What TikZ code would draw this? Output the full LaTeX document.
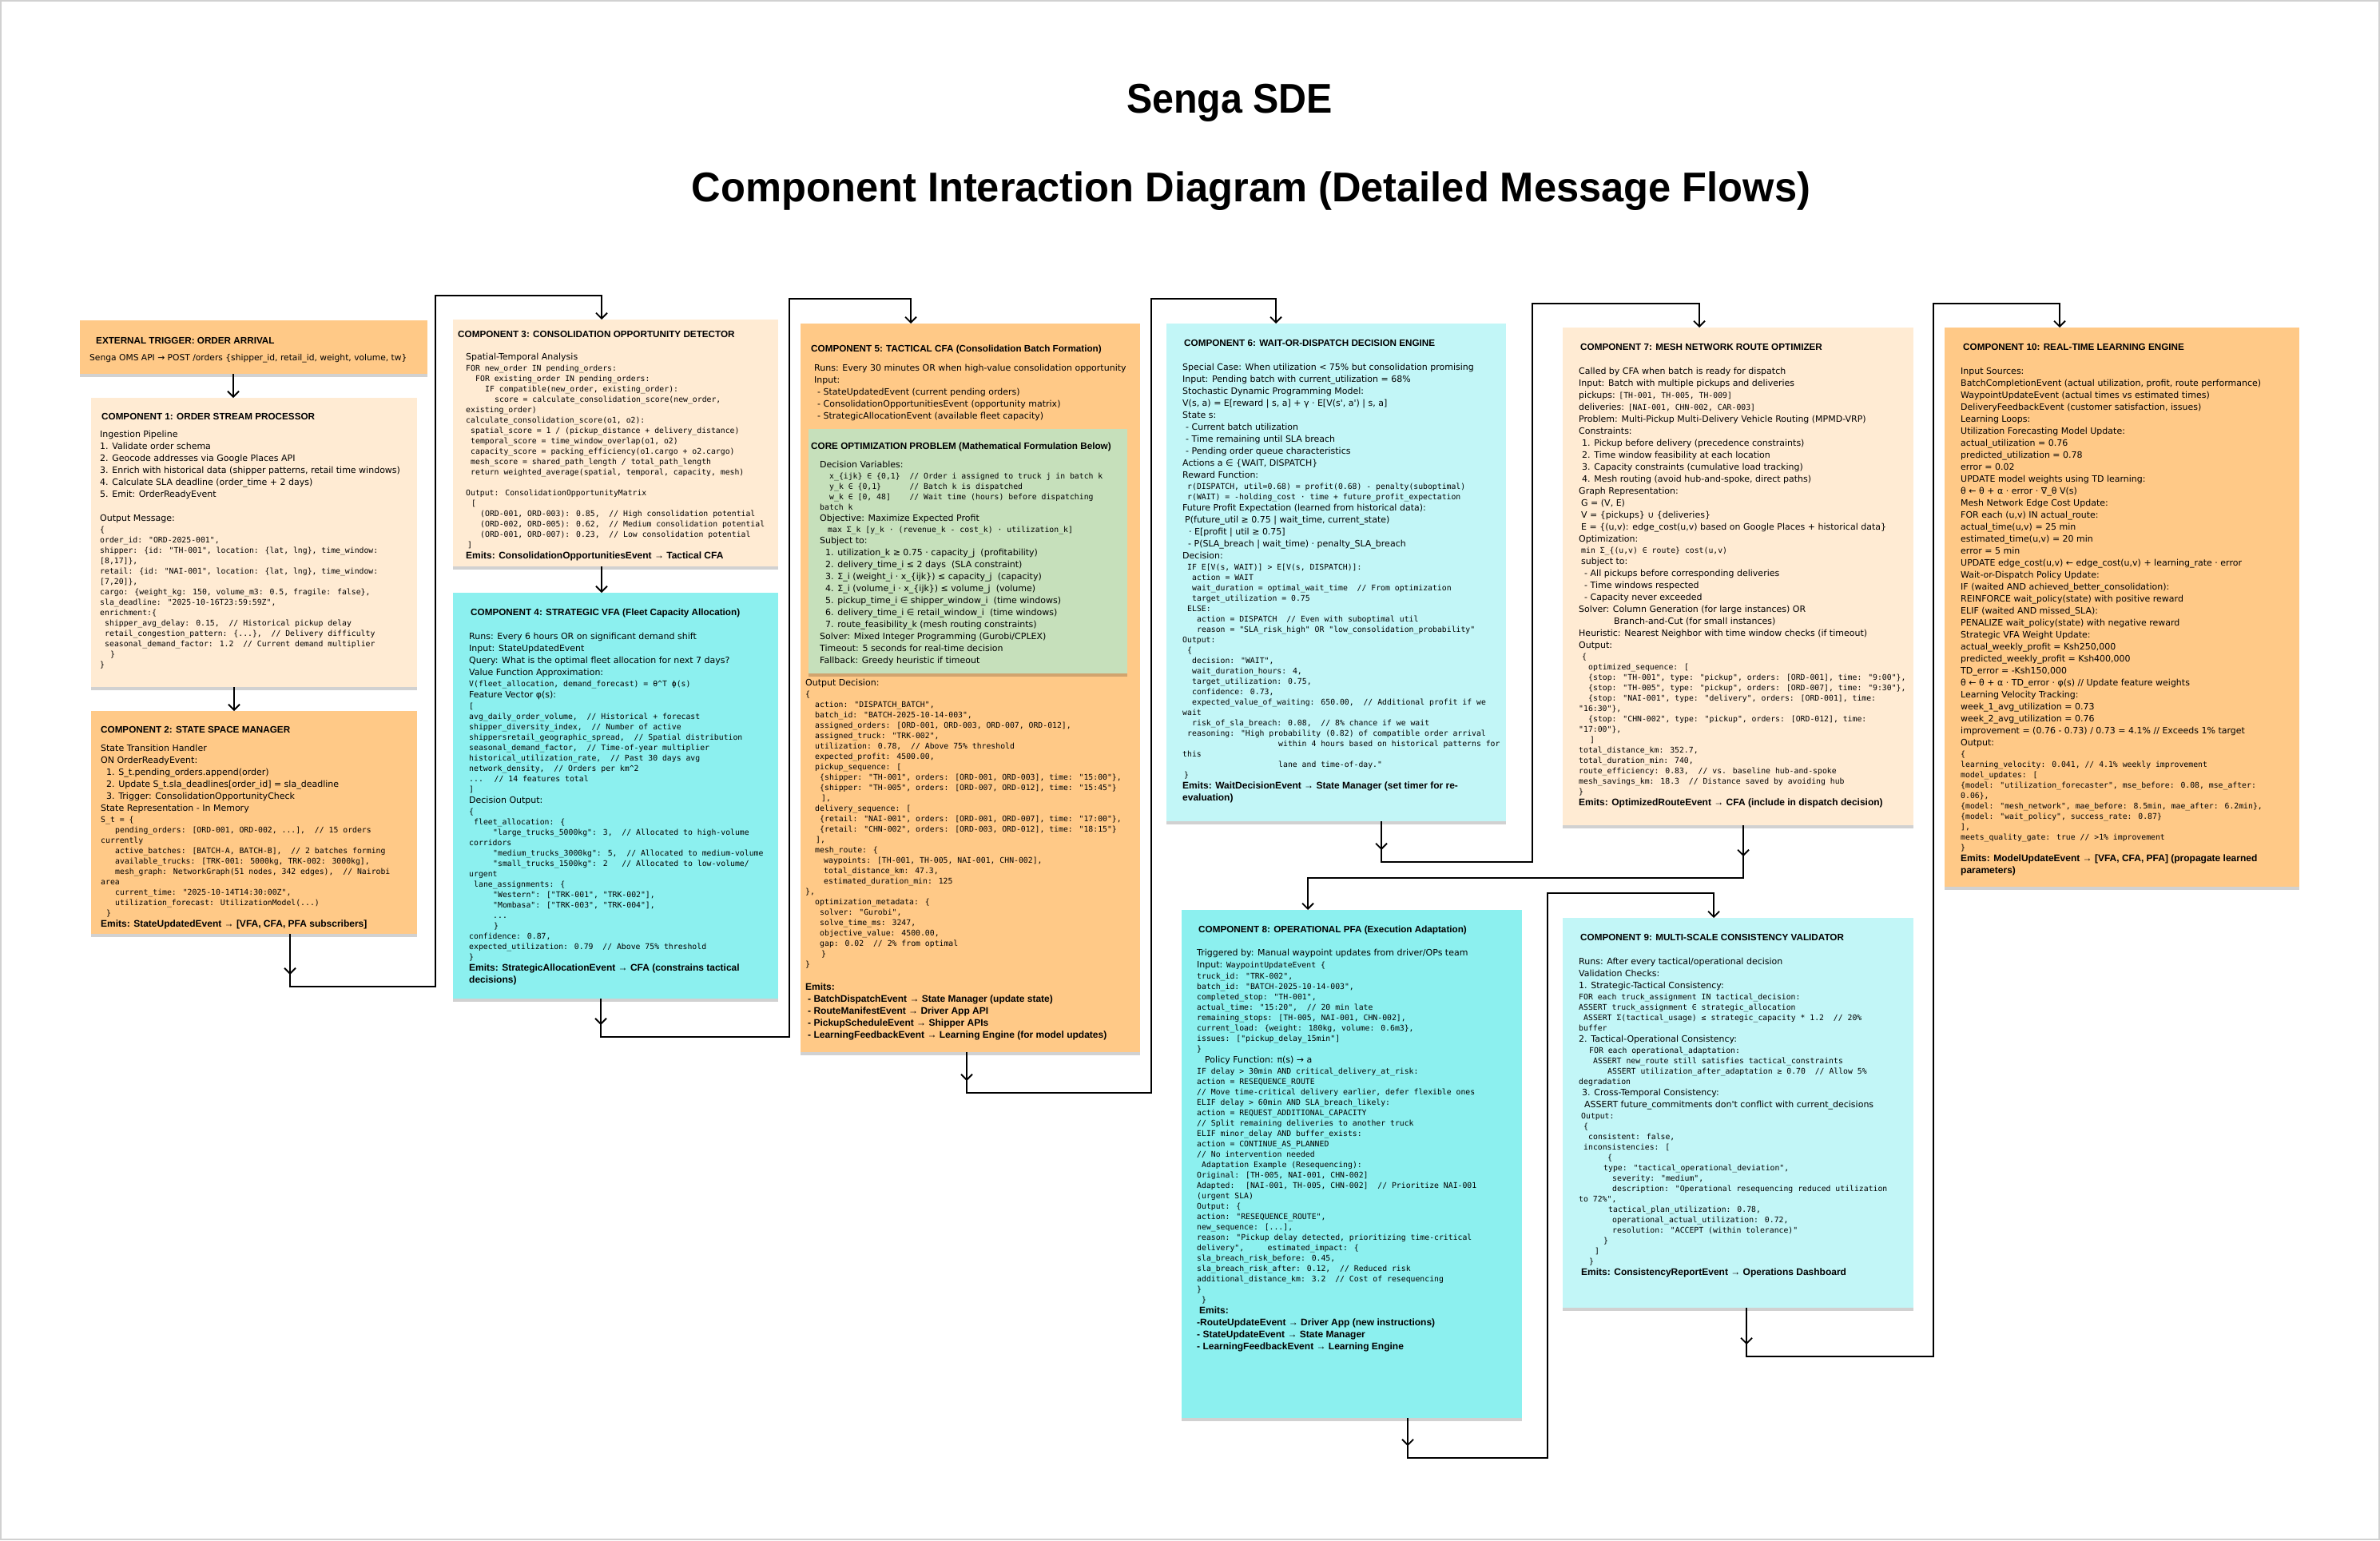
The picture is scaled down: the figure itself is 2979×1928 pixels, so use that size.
\documentclass[tikz,border=0pt]{standalone}
\usepackage{fontspec}
\setmainfont{Liberation Sans}
\newfontfamily\monof{DejaVu Sans Mono}
\newfontfamily\symf{DejaVu Sans}
\newfontfamily\prosef{DejaVu Sans}
\usetikzlibrary{arrows.meta,shadows}
\definecolor{orng}{HTML}{FFC987}
\definecolor{peach}{HTML}{FFEBD3}
\definecolor{cyanA}{HTML}{8CF0EF}
\definecolor{cyanB}{HTML}{C2F6F7}
\definecolor{greenA}{HTML}{C6E0BB}
\newcommand\psz{11}
\newcommand\pfont{\prosef\fontsize{\psz}{15}\selectfont}
\newcommand\cfont{\monof\fontsize{9.8}{13}\selectfont}
\newcommand\bfnt{\bfseries\fontsize{12}{15}\selectfont}
\newcommand\tfnt{\bfseries\fontsize{11.7}{13}\selectfont}
\newcommand\Lp[1]{\hbox{\pfont\vrule height 11pt depth 4pt width 0pt\relax #1}}
\newcommand\Lc[1]{\hbox{\cfont\vrule height 10pt depth 3pt width 0pt\relax #1}}
\newcommand\Lb[1]{\hbox{\bfnt\vrule height 11pt depth 4pt width 0pt\relax #1}}
\newcommand\hs[1]{\hspace*{#1pt}}
\newcommand\cflx{\symbol{94}}
\newcommand\sy[1]{{\symf #1}}
\tikzset{
  card/.style={rectangle, anchor=north west, inner sep=0pt, outer sep=0pt, draw=none,
    drop shadow={shadow xshift=0pt, shadow yshift=-4pt, opacity=0.18, fill=black}},
  ttl/.style={anchor=base west, inner sep=0pt, font=\tfnt},
  body/.style={anchor=base west, inner sep=0pt},
  arr/.style={line width=1.8pt, -{Straight Barb[length=7pt,width=14pt]}},
}
\begin{document}
\catcode`\_=12
\begin{tikzpicture}[x=1pt,y=-1pt]
\useasboundingbox (0,0) rectangle (2979,1928);
\fill[white] (0,0) rectangle (2979,1928);
\draw[black!18, line width=1.5pt] (1,1) rectangle (2978,1927);

% titles
\node[font=\bfseries\fontsize{52}{60}\selectfont] (t1) at (1539,129) {\scalebox{0.93}[1]{Senga SDE}};
\node[font=\bfseries\fontsize{52}{60}\selectfont] (t2) at (1566,239) {\scalebox{0.973}[1]{Component Interaction Diagram (Detailed Message Flows)}};

% ---------- cards ----------
\node[card, fill=orng, minimum width=435pt, minimum height=67pt] (trg) at (100,401) {};
\node[card, fill=peach, minimum width=408pt, minimum height=362pt] (c1) at (114,498) {};
\node[card, fill=orng, minimum width=408pt, minimum height=279pt] (c2) at (114,890) {};
\node[card, fill=peach, minimum width=407pt, minimum height=309pt] (c3) at (567,400) {};
\node[card, fill=cyanA, minimum width=407pt, minimum height=508pt] (c4) at (567,742) {};
\node[card, fill=orng, minimum width=425pt, minimum height=912pt] (c5) at (1002,405) {};
\node[card, fill=greenA, minimum width=399pt, minimum height=306pt] (c5g) at (1012,537) {};
\node[card, fill=cyanB, minimum width=425pt, minimum height=623pt] (c6) at (1460,405) {};
\node[card, fill=peach, minimum width=439pt, minimum height=623pt] (c7) at (1956,410) {};
\node[card, fill=cyanA, minimum width=426pt, minimum height=636pt] (c8) at (1479,1139) {};
\node[card, fill=cyanB, minimum width=439pt, minimum height=488pt] (c9) at (1956,1149) {};
\node[card, fill=orng, minimum width=444pt, minimum height=700pt] (c10) at (2434,410) {};

% ---------- trigger ----------
\node[ttl] (trgt) at (120,430) {EXTERNAL TRIGGER: ORDER ARRIVAL};
\node[body, font=\prosef\fontsize{10.7}{15}\selectfont] (trgs) at (112,451) {Senga OMS API → POST /orders \{shipper_id, retail_id, weight, volume, tw\}};

% ---------- C1 ----------
\node[ttl] (c1t) at (127,525) {COMPONENT 1: ORDER STREAM PROCESSOR};
\node[body] (c1b) at (125,547) {\vtop{\offinterlineskip
\Lp{Ingestion Pipeline}
\Lp{1. Validate order schema}
\Lp{2. Geocode addresses via Google Places API}
\Lp{3. Enrich with historical data (shipper patterns, retail time windows)}
\Lp{4. Calculate SLA deadline (order_time + 2 days)}
\Lp{5. Emit: OrderReadyEvent}
\Lp{}
\Lp{Output Message:}
\Lc{\{}
\Lc{order_id: "ORD-2025-001",}
\Lc{shipper: \{id: "TH-001", location: \{lat, lng\}, time_window:}
\Lc{[8,17]\},}
\Lc{retail: \{id: "NAI-001", location: \{lat, lng\}, time_window:}
\Lc{[7,20]\},}
\Lc{cargo: \{weight_kg: 150, volume_m3: 0.5, fragile: false\},}
\Lc{sla_deadline: "2025-10-16T23:59:59Z",}
\Lc{enrichment:\{}
\Lc{\hs{6}shipper_avg_delay: 0.15,~ // Historical pickup delay}
\Lc{\hs{6}retail_congestion_pattern: \{...\},~ // Delivery difficulty}
\Lc{\hs{6}seasonal_demand_factor: 1.2~ // Current demand multiplier}
\Lc{\hs{13}\}}
\Lc{\}}
}};

% ---------- C2 ----------
\node[ttl] (c2t) at (126,917) {COMPONENT 2: STATE SPACE MANAGER};
\node[body] (c2b) at (126,940) {\vtop{\offinterlineskip
\Lp{State Transition Handler}
\Lp{ON OrderReadyEvent:}
\Lp{\hs{7}1. S_t.pending_orders.append(order)}
\Lp{\hs{7}2. Update S_t.sla_deadlines[order_id] = sla_deadline}
\Lp{\hs{7}3. Trigger: ConsolidationOpportunityCheck}
\Lp{State Representation - In Memory}
\Lc{S_t = \{}
\Lc{\hs{18}pending_orders: [ORD-001, ORD-002, ...],~ // 15 orders}
\Lc{currently}
\Lc{\hs{18}active_batches: [BATCH-A, BATCH-B],~ // 2 batches forming}
\Lc{\hs{18}available_trucks: [TRK-001: 5000kg, TRK-002: 3000kg],}
\Lc{\hs{18}mesh_graph: NetworkGraph(51 nodes, 342 edges),~ // Nairobi}
\Lc{area}
\Lc{\hs{18}current_time: "2025-10-14T14:30:00Z",}
\Lc{\hs{18}utilization_forecast: UtilizationModel(...)}
\Lc{\hs{7}\}}
\Lb{Emits: StateUpdatedEvent → [VFA, CFA, PFA subscribers]}
}};

% ---------- C3 ----------
\node[ttl] (c3t) at (573,422) {COMPONENT 3: CONSOLIDATION OPPORTUNITY DETECTOR};
\node[body] (c3b) at (583,450) {\vtop{\offinterlineskip
\Lp{Spatial-Temporal Analysis}
\Lc{FOR new_order IN pending_orders:}
\Lc{\hs{12}FOR existing_order IN pending_orders:}
\Lc{\hs{24}IF compatible(new_order, existing_order):}
\Lc{\hs{36}score = calculate_consolidation_score(new_order,}
\Lc{existing_order)}
\Lc{calculate_consolidation_score(o1, o2):}
\Lc{\hs{6}spatial_score = 1 / (pickup_distance + delivery_distance)}
\Lc{\hs{6}temporal_score = time_window_overlap(o1, o2)}
\Lc{\hs{6}capacity_score = packing_efficiency(o1.cargo + o2.cargo)}
\Lc{\hs{6}mesh_score = shared_path_length / total_path_length}
\Lc{\hs{6}return weighted_average(spatial, temporal, capacity, mesh)}
\Lc{}
\Lc{Output: ConsolidationOpportunityMatrix}
\Lc{\hs{7}[}
\Lc{\hs{18}(ORD-001, ORD-003): 0.85,~ // High consolidation potential}
\Lc{\hs{18}(ORD-002, ORD-005): 0.62,~ // Medium consolidation potential}
\Lc{\hs{18}(ORD-001, ORD-007): 0.23,~ // Low consolidation potential}
\Lc{\hs{2}]}
\Lb{Emits: ConsolidationOpportunitiesEvent → Tactical CFA}
}};

% ---------- C4 ----------
\node[ttl] (c4t) at (589,770) {COMPONENT 4: STRATEGIC VFA (Fleet Capacity Allocation)};
\node[body] (c4b) at (587,800) {\vtop{\offinterlineskip
\Lp{Runs: Every 6 hours OR on significant demand shift}
\Lp{Input: StateUpdatedEvent}
\Lp{Query: What is the optimal fleet allocation for next 7 days?}
\Lp{Value Function Approximation:}
\Lc{V(fleet_allocation, demand_forecast) = θ\cflx T ϕ(s)}
\Lp{Feature Vector φ(s):}
\Lc{[}
\Lc{avg_daily_order_volume,~ // Historical + forecast}
\Lc{shipper_diversity_index,~ // Number of active}
\Lc{shippersretail_geographic_spread,~ // Spatial distribution}
\Lc{seasonal_demand_factor,~ // Time-of-year multiplier}
\Lc{historical_utilization_rate,~ // Past 30 days avg}
\Lc{network_density,~ // Orders per km\cflx 2}
\Lc{...~ // 14 features total}
\Lc{]}
\Lp{Decision Output:}
\Lc{\{}
\Lc{\hs{6}fleet_allocation: \{}
\Lc{\hs{30}"large_trucks_5000kg": 3,~ // Allocated to high-volume}
\Lc{corridors}
\Lc{\hs{30}"medium_trucks_3000kg": 5,~ // Allocated to medium-volume}
\Lc{\hs{30}"small_trucks_1500kg": 2~~ // Allocated to low-volume/}
\Lc{urgent}
\Lc{\hs{6}lane_assignments: \{}
\Lc{\hs{30}"Western": ["TRK-001", "TRK-002"],}
\Lc{\hs{30}"Mombasa": ["TRK-003", "TRK-004"],}
\Lc{\hs{30}...}
\Lc{\hs{31}\}}
\Lc{confidence: 0.87,}
\Lc{expected_utilization: 0.79~ // Above 75\% threshold}
\Lc{\}}
\Lb{Emits: StrategicAllocationEvent → CFA (constrains tactical}
\Lb{decisions)}
}};

% ---------- C5 ----------
\node[ttl] (c5t) at (1015,440) {COMPONENT 5: TACTICAL CFA (Consolidation Batch Formation)};
\node[body] (c5b) at (1019,464) {\vtop{\offinterlineskip
\Lp{Runs: Every 30 minutes OR when high-value consolidation opportunity}
\Lp{Input:}
\Lp{\hs{4}- StateUpdatedEvent (current pending orders)}
\Lp{\hs{4}- ConsolidationOpportunitiesEvent (opportunity matrix)}
\Lp{\hs{4}- StrategicAllocationEvent (available fleet capacity)}
}};
\node[ttl] (c5gt) at (1015,562) {CORE OPTIMIZATION PROBLEM (Mathematical Formulation Below)};
\node[body] (c5gb) at (1026,585) {\vtop{\offinterlineskip
\Lp{Decision Variables:}
\Lc{\hs{12}x_\{ijk\} ∈ \{0,1\}~ // Order i assigned to truck j in batch k}
\Lc{\hs{12}y_k ∈ \{0,1\}~~~~~ // Batch k is dispatched}
\Lc{\hs{12}w_k ∈ [0, 48]~~~ // Wait time (hours) before dispatching}
\Lc{batch k}
\Lp{Objective: Maximize Expected Profit}
\Lc{\hs{10}max Σ_k [y_k · (revenue_k - cost_k) · utilization_k]}
\Lp{Subject to:}
\Lp{\hs{7}1. utilization_k ≥ 0.75 · capacity_j~ (profitability)}
\Lp{\hs{7}2. delivery_time_i ≤ 2 days~ (SLA constraint)}
\Lp{\hs{7}3. Σ_i (weight_i · x_\{ijk\}) ≤ capacity_j~ (capacity)}
\Lp{\hs{7}4. Σ_i (volume_i · x_\{ijk\}) ≤ volume_j~ (volume)}
\Lp{\hs{7}5. pickup_time_i \sy{∈} shipper_window_i~ (time windows)}
\Lp{\hs{7}6. delivery_time_i \sy{∈} retail_window_i~ (time windows)}
\Lp{\hs{7}7. route_feasibility_k (mesh routing constraints)}
\Lp{Solver: Mixed Integer Programming (Gurobi/CPLEX)}
\Lp{Timeout: 5 seconds for real-time decision}
\Lp{Fallback: Greedy heuristic if timeout}
}};
\node[body] (c5o) at (1008,858) {\vtop{\offinterlineskip
\Lp{Output Decision:}
\Lc{\{}
\Lc{\hs{12}action: "DISPATCH_BATCH",}
\Lc{\hs{12}batch_id: "BATCH-2025-10-14-003",}
\Lc{\hs{12}assigned_orders: [ORD-001, ORD-003, ORD-007, ORD-012],}
\Lc{\hs{12}assigned_truck: "TRK-002",}
\Lc{\hs{12}utilization: 0.78,~ // Above 75\% threshold}
\Lc{\hs{12}expected_profit: 4500.00,}
\Lc{\hs{12}pickup_sequence: [}
\Lc{\hs{18}\{shipper: "TH-001", orders: [ORD-001, ORD-003], time: "15:00"\},}
\Lc{\hs{18}\{shipper: "TH-005", orders: [ORD-007, ORD-012], time: "15:45"\}}
\Lc{\hs{20}],}
\Lc{\hs{12}delivery_sequence: [}
\Lc{\hs{18}\{retail: "NAI-001", orders: [ORD-001, ORD-007], time: "17:00"\},}
\Lc{\hs{18}\{retail: "CHN-002", orders: [ORD-003, ORD-012], time: "18:15"\}}
\Lc{\hs{13}],}
\Lc{\hs{12}mesh_route: \{}
\Lc{\hs{23}waypoints: [TH-001, TH-005, NAI-001, CHN-002],}
\Lc{\hs{23}total_distance_km: 47.3,}
\Lc{\hs{23}estimated_duration_min: 125}
\Lc{\},}
\Lc{\hs{12}optimization_metadata: \{}
\Lc{\hs{18}solver: "Gurobi",}
\Lc{\hs{18}solve_time_ms: 3247,}
\Lc{\hs{18}objective_value: 4500.00,}
\Lc{\hs{18}gap: 0.02~ // 2\% from optimal}
\Lc{\hs{20}\}}
\Lc{\}}
\Lp{}
\Lb{Emits:}
\Lb{\hs{3}- BatchDispatchEvent → State Manager (update state)}
\Lb{\hs{3}- RouteManifestEvent → Driver App API}
\Lb{\hs{3}- PickupScheduleEvent → Shipper APIs}
\Lb{\hs{3}- LearningFeedbackEvent → Learning Engine (for model updates)}
}};

% ---------- C6 ----------
\node[ttl] (c6t) at (1482,433) {COMPONENT 6: WAIT-OR-DISPATCH DECISION ENGINE};
\node[body] (c6b) at (1480,463) {\vtop{\offinterlineskip
\Lp{Special Case: When utilization < 75\% but consolidation promising}
\Lp{Input: Pending batch with current_utilization = 68\%}
\Lp{Stochastic Dynamic Programming Model:}
\Lp{V(s, a) = E[reward | s, a] + γ · E[V(s', a') | s, a]}
\Lp{State s:}
\Lp{\hs{4}- Current batch utilization}
\Lp{\hs{4}- Time remaining until SLA breach}
\Lp{\hs{4}- Pending order queue characteristics}
\Lp{Actions a \sy{∈} \{WAIT, DISPATCH\}}
\Lp{Reward Function:}
\Lc{\hs{6}r(DISPATCH, util=0.68) = profit(0.68) - penalty(suboptimal)}
\Lc{\hs{6}r(WAIT) = -holding_cost · time + future_profit_expectation}
\Lp{Future Profit Expectation (learned from historical data):}
\Lp{\hs{3}P(future_util ≥ 0.75 | wait_time, current_state)}
\Lp{\hs{8}· E[profit | util ≥ 0.75]}
\Lp{\hs{7}- P(SLA_breach | wait_time) · penalty_SLA_breach}
\Lp{Decision:}
\Lc{\hs{6}IF E[V(s, WAIT)] > E[V(s, DISPATCH)]:}
\Lc{\hs{12}action = WAIT}
\Lc{\hs{12}wait_duration = optimal_wait_time~ // From optimization}
\Lc{\hs{12}target_utilization = 0.75}
\Lc{\hs{6}ELSE:}
\Lc{\hs{18}action = DISPATCH~ // Even with suboptimal util}
\Lc{\hs{18}reason = "SLA_risk_high" OR "low_consolidation_probability"}
\Lc{Output:}
\Lc{\hs{6}\{}
\Lc{\hs{12}decision: "WAIT",}
\Lc{\hs{12}wait_duration_hours: 4,}
\Lc{\hs{12}target_utilization: 0.75,}
\Lc{\hs{12}confidence: 0.73,}
\Lc{\hs{12}expected_value_of_waiting: 650.00,~ // Additional profit if we}
\Lc{wait}
\Lc{\hs{12}risk_of_sla_breach: 0.08,~ // 8\% chance if we wait}
\Lc{\hs{6}reasoning: "High probability (0.82) of compatible order arrival}
\Lc{\hs{120}within 4 hours based on historical patterns for}
\Lc{this}
\Lc{\hs{120}lane and time-of-day."}
\Lc{\hs{2}\}}
\Lb{Emits: WaitDecisionEvent → State Manager (set timer for re-}
\Lb{evaluation)}
}};

% ---------- C7 ----------
\node[ttl] (c7t) at (1978,438) {COMPONENT 7: MESH NETWORK ROUTE OPTIMIZER};
\node[body] (c7b) at (1976,468) {\vtop{\offinterlineskip
\Lp{Called by CFA when batch is ready for dispatch}
\Lp{Input: Batch with multiple pickups and deliveries}
\Lp{pickups: {\cfont [TH-001, TH-005, TH-009]}}
\Lp{deliveries: {\cfont [NAI-001, CHN-002, CAR-003]}}
\Lp{Problem: Multi-Pickup Multi-Delivery Vehicle Routing (MPMD-VRP)}
\Lp{Constraints:}
\Lp{\hs{4}1. Pickup before delivery (precedence constraints)}
\Lp{\hs{4}2. Time window feasibility at each location}
\Lp{\hs{4}3. Capacity constraints (cumulative load tracking)}
\Lp{\hs{4}4. Mesh routing (avoid hub-and-spoke, direct paths)}
\Lp{Graph Representation:}
\Lp{\hs{3}G = (V, E)}
\Lp{\hs{3}V = \{pickups\} \sy{∪} \{deliveries\}}
\Lp{\hs{3}E = \{(u,v): edge_cost(u,v) based on Google Places + historical data\}}
\Lp{Optimization:}
\Lc{\hs{3}min Σ_\{(u,v) ∈ route\} cost(u,v)}
\Lp{\hs{3}subject to:}
\Lp{\hs{7}- All pickups before corresponding deliveries}
\Lp{\hs{7}- Time windows respected}
\Lp{\hs{7}- Capacity never exceeded}
\Lp{Solver: Column Generation (for large instances) OR}
\Lp{\hs{44}Branch-and-Cut (for small instances)}
\Lp{Heuristic: Nearest Neighbor with time window checks (if timeout)}
\Lp{Output:}
\Lc{\hs{4}\{}
\Lc{\hs{12}optimized_sequence: [}
\Lc{\hs{12}\{stop: "TH-001", type: "pickup", orders: [ORD-001], time: "9:00"\},}
\Lc{\hs{12}\{stop: "TH-005", type: "pickup", orders: [ORD-007], time: "9:30"\},}
\Lc{\hs{12}\{stop: "NAI-001", type: "delivery", orders: [ORD-001], time:}
\Lc{"16:30"\},}
\Lc{\hs{12}\{stop: "CHN-002", type: "pickup", orders: [ORD-012], time:}
\Lc{"17:00"\},}
\Lc{\hs{14}]}
\Lc{total_distance_km: 352.7,}
\Lc{total_duration_min: 740,}
\Lc{route_efficiency: 0.83,~ // vs. baseline hub-and-spoke}
\Lc{mesh_savings_km: 18.3~ // Distance saved by avoiding hub}
\Lc{\}}
\Lb{Emits: OptimizedRouteEvent → CFA (include in dispatch decision)}
}};

% ---------- C8 ----------
\node[ttl] (c8t) at (1500,1167) {COMPONENT 8: OPERATIONAL PFA (Execution Adaptation)};
\node[body] (c8b) at (1498,1196) {\vtop{\offinterlineskip
\Lp{Triggered by: Manual waypoint updates from driver/OPs team}
\Lp{Input: {\cfont WaypointUpdateEvent \{}}
\Lc{truck_id: "TRK-002",}
\Lc{batch_id: "BATCH-2025-10-14-003",}
\Lc{completed_stop: "TH-001",}
\Lc{actual_time: "15:20",~ // 20 min late}
\Lc{remaining_stops: [TH-005, NAI-001, CHN-002],}
\Lc{current_load: \{weight: 180kg, volume: 0.6m3\},}
\Lc{issues: ["pickup_delay_15min"]}
\Lc{\}}
\Lp{\hs{10}Policy Function: π(s) → a}
\Lc{IF delay > 30min AND critical_delivery_at_risk:}
\Lc{action = RESEQUENCE_ROUTE}
\Lc{// Move time-critical delivery earlier, defer flexible ones}
\Lc{ELIF delay > 60min AND SLA_breach_likely:}
\Lc{action = REQUEST_ADDITIONAL_CAPACITY}
\Lc{// Split remaining deliveries to another truck}
\Lc{ELIF minor_delay AND buffer_exists:}
\Lc{action = CONTINUE_AS_PLANNED}
\Lc{// No intervention needed}
\Lc{\hs{6}Adaptation Example (Resequencing):}
\Lc{Original: [TH-005, NAI-001, CHN-002]}
\Lc{Adapted:~ [NAI-001, TH-005, CHN-002]~ // Prioritize NAI-001}
\Lc{(urgent SLA)}
\Lc{Output: \{}
\Lc{action: "RESEQUENCE_ROUTE",}
\Lc{new_sequence: [...],}
\Lc{reason: "Pickup delay detected, prioritizing time-critical}
\Lc{delivery",~~~~ estimated_impact: \{}
\Lc{sla_breach_risk_before: 0.45,}
\Lc{sla_breach_risk_after: 0.12,~ // Reduced risk}
\Lc{additional_distance_km: 3.2~ // Cost of resequencing}
\Lc{\}}
\Lc{\hs{6}\}}
\Lb{\hs{3}Emits:}
\Lb{-RouteUpdateEvent → Driver App (new instructions)}
\Lb{- StateUpdateEvent → State Manager}
\Lb{- LearningFeedbackEvent → Learning Engine}
}};

% ---------- C9 ----------
\node[ttl] (c9t) at (1978,1177) {COMPONENT 9: MULTI-SCALE CONSISTENCY VALIDATOR};
\node[body] (c9b) at (1976,1207) {\vtop{\offinterlineskip
\Lp{Runs: After every tactical/operational decision}
\Lp{Validation Checks:}
\Lp{1. Strategic-Tactical Consistency:}
\Lc{FOR each truck_assignment IN tactical_decision:}
\Lc{ASSERT truck_assignment ∈ strategic_allocation}
\Lc{\hs{6}ASSERT Σ(tactical_usage) ≤ strategic_capacity * 1.2~ // 20\%}
\Lc{buffer}
\Lp{2. Tactical-Operational Consistency:}
\Lc{\hs{13}FOR each operational_adaptation:}
\Lc{\hs{18}ASSERT new_route still satisfies tactical_constraints}
\Lc{\hs{36}ASSERT utilization_after_adaptation ≥ 0.70~ // Allow 5\%}
\Lc{degradation}
\Lp{\hs{4}3. Cross-Temporal Consistency:}
\Lp{\hs{7}ASSERT future_commitments don't conflict with current_decisions}
\Lc{\hs{3}Output:}
\Lc{\hs{6}\{}
\Lc{\hs{12}consistent: false,}
\Lc{\hs{6}inconsistencies: [}
\Lc{\hs{36}\{}
\Lc{\hs{31}type: "tactical_operational_deviation",}
\Lc{\hs{42}severity: "medium",}
\Lc{\hs{42}description: "Operational resequencing reduced utilization}
\Lc{to 72\%",}
\Lc{\hs{37}tactical_plan_utilization: 0.78,}
\Lc{\hs{42}operational_actual_utilization: 0.72,}
\Lc{\hs{42}resolution: "ACCEPT (within tolerance)"}
\Lc{\hs{31}\}}
\Lc{\hs{20}]}
\Lc{\hs{13}\}}
\Lb{\hs{3}Emits: ConsistencyReportEvent → Operations Dashboard}
}};

% ---------- C10 ----------
\node[ttl] (c10t) at (2457,438) {COMPONENT 10: REAL-TIME LEARNING ENGINE};
\node[body] (c10b) at (2454,468) {\vtop{\offinterlineskip
\Lp{Input Sources:}
\Lp{BatchCompletionEvent (actual utilization, profit, route performance)}
\Lp{WaypointUpdateEvent (actual times vs estimated times)}
\Lp{DeliveryFeedbackEvent (customer satisfaction, issues)}
\Lp{Learning Loops:}
\Lp{Utilization Forecasting Model Update:}
\Lp{actual_utilization = 0.76}
\Lp{predicted_utilization = 0.78}
\Lp{error = 0.02}
\Lp{UPDATE model weights using TD learning:}
\Lp{θ ← θ + α · error · ∇_θ V(s)}
\Lp{Mesh Network Edge Cost Update:}
\Lp{FOR each (u,v) IN actual_route:}
\Lp{actual_time(u,v) = 25 min}
\Lp{estimated_time(u,v) = 20 min}
\Lp{error = 5 min}
\Lp{UPDATE edge_cost(u,v) ← edge_cost(u,v) + learning_rate · error}
\Lp{Wait-or-Dispatch Policy Update:}
\Lp{IF (waited AND achieved_better_consolidation):}
\Lp{REINFORCE wait_policy(state) with positive reward}
\Lp{ELIF (waited AND missed_SLA):}
\Lp{PENALIZE wait_policy(state) with negative reward}
\Lp{Strategic VFA Weight Update:}
\Lp{actual_weekly_profit = Ksh250,000}
\Lp{predicted_weekly_profit = Ksh400,000}
\Lp{TD_error = -Ksh150,000}
\Lp{θ ← θ + α · TD_error · φ(s) // Update feature weights}
\Lp{Learning Velocity Tracking:}
\Lp{week_1_avg_utilization = 0.73}
\Lp{week_2_avg_utilization = 0.76}
\Lp{improvement = (0.76 - 0.73) / 0.73 = 4.1\% // Exceeds 1\% target}
\Lp{Output:}
\Lc{\{}
\Lc{learning_velocity: 0.041, // 4.1\% weekly improvement}
\Lc{model_updates: [}
\Lc{\{model: "utilization_forecaster", mse_before: 0.08, mse_after:}
\Lc{0.06\},}
\Lc{\{model: "mesh_network", mae_before: 8.5min, mae_after: 6.2min\},}
\Lc{\{model: "wait_policy", success_rate: 0.87\}}
\Lc{],}
\Lc{meets_quality_gate: true // >1\% improvement}
\Lc{\}}
\Lb{Emits: ModelUpdateEvent → [VFA, CFA, PFA] (propagate learned}
\Lb{parameters)}
}};

% ---------- connectors ----------
\coordinate (trgO) at (292,468);  \coordinate (c1I) at (292,498);
\coordinate (c1O) at (293,860);   \coordinate (c2I) at (293,890);
\coordinate (c2O) at (363,1169);  \coordinate (c3I) at (753,400);
\coordinate (c3O) at (753,709);   \coordinate (c4I) at (753,742);
\coordinate (c4O) at (752,1250);  \coordinate (c5I) at (1140,405);
\coordinate (c5O) at (1210,1317); \coordinate (c6I) at (1597,405);
\coordinate (c6O) at (1729,1028); \coordinate (c7I) at (2127,410);
\coordinate (c7O) at (2182,1033); \coordinate (c8I) at (1637,1139);
\coordinate (c8O) at (1762,1775); \coordinate (c9I) at (2145,1149);
\coordinate (c9O) at (2186,1637); \coordinate (c10I) at (2578,410);

\draw[arr] (trgO) -- (c1I);
\draw[arr] (c1O) -- (c2I);
\draw[arr] (c2O) -- (363,1220);
\draw[arr] (c2O) -- (363,1235) -- (545,1235) -- (545,370) -- (753,370) -- (c3I);
\draw[arr] (c3O) -- (c4I);
\draw[arr] (c4O) -- (752,1283);
\draw[arr] (c4O) -- (752,1298) -- (988,1298) -- (988,374) -- (1140,374) -- (c5I);
\draw[arr] (c5O) -- (1210,1353);
\draw[arr] (c5O) -- (1210,1368) -- (1441,1368) -- (1441,374) -- (1597,374) -- (c6I);
\draw[arr] (c6O) -- (1729,1064);
\draw[arr] (c6O) -- (1729,1079) -- (1918,1079) -- (1918,380) -- (2127,380) -- (c7I);
\draw[arr] (c7O) -- (2182,1072);
\draw[arr] (c7O) -- (2182,1099) -- (1637,1099) -- (c8I);
\draw[arr] (c8O) -- (1762,1810);
\draw[arr] (c8O) -- (1762,1825) -- (1937,1825) -- (1937,1118) -- (2145,1118) -- (c9I);
\draw[arr] (c9O) -- (2186,1683);
\draw[arr] (c9O) -- (2186,1698) -- (2420,1698) -- (2420,380) -- (2578,380) -- (c10I);
\end{tikzpicture}
\end{document}
